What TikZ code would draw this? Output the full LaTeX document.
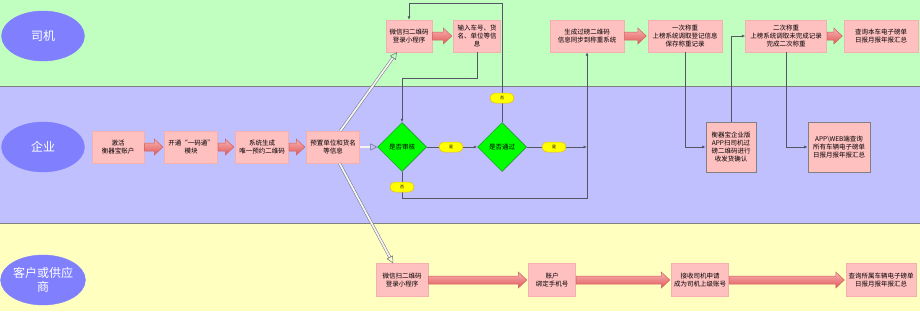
\documentclass[tikz,border=0pt]{standalone}
\usepackage{fontspec}
\newfontfamily\cjk{Noto Sans CJK SC}
\usetikzlibrary{shapes.geometric,arrows.meta,calc}
\definecolor{lanegreen}{HTML}{C0FFC0}
\definecolor{lanepurple}{HTML}{C0C0FF}
\definecolor{laneyellow}{HTML}{FFFFC0}
\definecolor{rolefill}{HTML}{8080FF}
\definecolor{boxfill}{HTML}{FFC0C0}
\definecolor{boxline}{HTML}{F4B0B0}
\definecolor{connline}{HTML}{555566}
\definecolor{dblline}{HTML}{70708A}
\definecolor{dblfill}{HTML}{F4F4EC}
\definecolor{arrowtop}{HTML}{F8B2B2}
\definecolor{arrowbot}{HTML}{E05A5A}
\definecolor{arrowline}{HTML}{D06060}
\definecolor{labfill}{HTML}{FFFF00}
\definecolor{labline}{HTML}{E8C000}
\definecolor{decfill}{HTML}{00FF00}
\definecolor{decline}{HTML}{118811}
\tikzset{
  role/.style={ellipse, fill=rolefill, draw=rolefill, minimum width=83pt, minimum height=50pt, inner sep=0pt,
    text=white, font=\cjk\fontsize{12}{14}\selectfont, align=center},
  stepbox/.style={rectangle, fill=boxfill, draw=boxline, line width=0.4pt, minimum height=32pt, inner sep=1pt,
    font=\cjk\fontsize{6.5}{8.2}\selectfont, align=center},
  framebox/.style={stepbox, draw=gray, line width=0.7pt},
  decision/.style={diamond, aspect=1, fill=decfill, draw=decline, line width=0.5pt, minimum width=49pt, minimum height=49pt,
    inner sep=0pt, font=\cjk\fontsize{6.5}{8}\selectfont},
  ynlabel/.style={rectangle, rounded corners=5pt, fill=labfill, draw=labline, line width=0.5pt, minimum width=24pt,
    minimum height=10pt, inner sep=0pt, font=\cjk\fontsize{4}{4}\selectfont},
  conn/.style={draw=connline, line width=0.7pt},
  connarrow/.style={conn, -{Latex[length=3.5pt,width=3pt]}},
  dbl/.style={draw=dblline, line width=0.5pt, double=dblfill, double distance=1.8pt, -{Triangle[open,length=7pt,width=7pt]}},
  fatarrow/.style={draw=arrowline, line width=0.5pt, top color=arrowtop, bottom color=arrowbot},
}
\newcommand\fatarr[2]{%
  \path[fatarrow] ($(#1.east)+(0.5pt,4pt)$) -- ($(#2.west)+(-10pt,4pt)$) -- ($(#2.west)+(-10pt,8pt)$)
   -- ($(#2.west)+(-1.5pt,0pt)$) -- ($(#2.west)+(-10pt,-8pt)$) -- ($(#2.west)+(-10pt,-4pt)$)
   -- ($(#1.east)+(0.5pt,-4pt)$) -- cycle;}
\begin{document}
\begin{tikzpicture}[x=1pt,y=-1pt]
\useasboundingbox (0,0) rectangle (920,311);
% lanes
\fill[lanegreen] (0,0) rectangle (920,86);
\fill[lanepurple] (0,86) rectangle (920,223);
\fill[laneyellow] (0,223) rectangle (920,311);
\draw[gray, line width=0.7pt] (0,86) -- (920,86);
\draw[gray, line width=1pt] (0,223) -- (920,223);
% roles
\node[role] (r1) at (43,36) {司机};
\node[role] (r2) at (43,147) {企业};
\node[role] (r3) at (43,280) {客户或供应\\商};
% top lane
\node[stepbox, minimum width=46pt] (wx) at (409,36) {微信扫二维码\\登录小程序};
\node[stepbox, minimum width=47pt, text width=45pt] (sr) at (477,36) {输入车号、货\\名、单位等信\\息};
\node[stepbox, minimum width=74pt] (gen) at (587,36) {生成过磅二维码\\信息同步到称重系统};
\node[stepbox, minimum width=74pt] (w1) at (685,36) {一次称重\\上榜系统调取登记信息\\保存称重记录};
\node[stepbox, minimum width=81pt] (w2) at (786,36) {二次称重\\上榜系统调取未完成记录\\完成二次称重};
\node[stepbox, minimum width=74pt] (q1) at (881,36) {查询本车电子磅单\\日报月报年报汇总};
% middle lane
\node[stepbox, minimum width=52pt] (jh) at (118,147) {激活\\衡器宝账户};
\node[stepbox, minimum width=53pt] (kt) at (191,147) {开通“一码通”\\模块};
\node[stepbox, minimum width=53pt] (xt) at (262,147) {系统生成\\唯一预约二维码};
\node[stepbox, minimum width=53pt] (yz) at (333,147) {预置单位和货名\\等信息};
\node[decision] (sh) at (402,147) {是否审核};
\node[decision] (tg) at (502,147) {是否通过};
\node[framebox, minimum width=50pt, minimum height=50pt] (qe) at (731,147) {衡器宝企业版\\APP扫司机过\\磅二维码进行\\收发货确认};
\node[framebox, minimum width=62pt, minimum height=50pt] (app) at (839,147) {APP\textbackslash WEB端查询\\所有车辆电子磅单\\日报月报年报汇总};
% bottom lane
\node[stepbox, minimum width=52pt, minimum height=33pt] (bw) at (402,280) {微信扫二维码\\登录小程序};
\node[stepbox, minimum width=47pt, minimum height=33pt] (zh) at (552,280) {账户\\绑定手机号};
\node[stepbox, minimum width=57pt, minimum height=33pt] (js) at (700,280) {接收司机申请\\成为司机上级账号};
\node[stepbox, minimum width=70pt, minimum height=33pt] (q2) at (881,280) {查询所属车辆电子磅单\\日报月报年报汇总};
% fat arrows
\fatarr{wx}{sr}
\fatarr{gen}{w1}
\fatarr{w2}{q1}
\fatarr{jh}{kt}
\fatarr{kt}{xt}
\fatarr{xt}{yz}
\fatarr{bw}{zh}
\fatarr{zh}{js}
\fatarr{js}{q2}
% double arrows
\draw[dbl] ($(yz.north west)!0.64!(yz.north east)$) -- ($(wx.south west)!0.24!(wx.south east)$);
\draw[dbl] ($(yz.south west)!0.62!(yz.south east)$) -- ($(bw.north west)!0.33!(bw.north east)$);
\draw[dbl] (yz.east) -- (sh.west);
% connectors
\coordinate (topturn) at (0,3);
\coordinate (midturn) at (0,78);
\coordinate (lowturn) at (0,198);
\draw[connarrow] (tg.north) -- (tg.north |- topturn) -- (wx.north |- topturn) -- (wx.north);
\draw[connarrow] (sr.south) -- (sr.south |- midturn) -- (sh.north |- midturn) -- (sh.north);
\draw[connarrow] (sh.east) -- (tg.west);
\coordinate (join) at (gen.south |- tg.east);
\draw[connarrow] (tg.east) -- (join);
\draw[connarrow] (sh.south) -- (sh.south |- lowturn) -- (gen.south |- lowturn) -- (gen.south);
\draw[connarrow] (w1.south) -- (w1.south |- qe.west) -- (qe.west);
\draw[connarrow] (qe.north) -- (qe.north |- w2.west) -- (w2.west);
\draw[connarrow] (w2.south) -- (w2.south |- app.west) -- (app.west);
% yes / no labels
\node[ynlabel] (y1) at (451,147) {是};
\node[ynlabel] (n1) at (402,187) {否};
\node[ynlabel] (y2) at (554,147) {是};
\node[ynlabel] (n2) at (502,98) {否};
\end{tikzpicture}
\end{document}
